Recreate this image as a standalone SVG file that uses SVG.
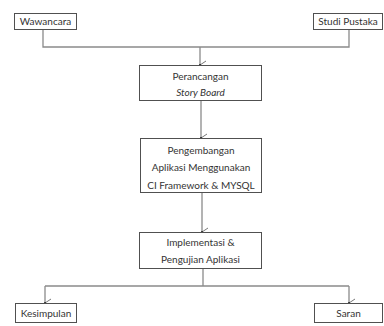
<svg xmlns="http://www.w3.org/2000/svg" width="384" height="326" viewBox="0 0 384 326">
<defs>
<style>
.box{fill:#fff;stroke:#505050;stroke-width:1}
.t{font-family:Lato,"Open Sans",sans-serif;font-size:10px;fill:#333;text-anchor:middle}
.c{fill:none;stroke:#8a8a8a;stroke-width:1.3}
</style>
<marker id="ah" markerWidth="10" markerHeight="10" refX="5" refY="8" orient="auto" markerUnits="userSpaceOnUse" viewBox="0 0 10 10">
<polyline points="1,2 5,8 9,2" fill="none" stroke="#777" stroke-width="1"/>
<circle cx="5" cy="8" r="1" fill="#222"/>
</marker>
</defs>
<g id="connectors">
<polyline class="c" points="43,29 43,47 349,47 349,29"/>
<line class="c" x1="200" y1="47" x2="200" y2="65" marker-end="url(#ah)"/>
<line class="c" x1="201" y1="100" x2="201" y2="138" marker-end="url(#ah)"/>
<line class="c" x1="202" y1="192" x2="202" y2="232" marker-end="url(#ah)"/>
<line class="c" x1="203" y1="268" x2="203" y2="286"/>
<line class="c" x1="45" y1="286" x2="349" y2="286"/>
<line class="c" x1="45" y1="286" x2="45" y2="303" marker-end="url(#ah)"/>
<line class="c" x1="349" y1="286" x2="349" y2="303" marker-end="url(#ah)"/>
</g>
<g id="wawancara">
<rect class="box" x="14.5" y="13.5" width="62" height="16"/>
<text class="t" x="45.5" y="25">Wawancara</text>
</g>
<g id="studi-pustaka">
<rect class="box" x="313.5" y="13.5" width="69" height="16"/>
<text class="t" x="348" y="25">Studi Pustaka</text>
</g>
<g id="perancangan">
<rect class="box" x="139.5" y="65.5" width="122" height="35"/>
<text class="t" x="200.5" y="80">Perancangan</text>
<text class="t" x="200.5" y="96" font-style="italic">Story Board</text>
</g>
<g id="pengembangan">
<rect class="box" x="140.5" y="138.5" width="121" height="54"/>
<text class="t" x="201" y="154">Pengembangan</text>
<text class="t" x="201" y="171">Aplikasi Menggunakan</text>
<text class="t" x="201" y="189">CI Framework &amp; MYSQL</text>
</g>
<g id="implementasi">
<rect class="box" x="139.5" y="232.5" width="122" height="36"/>
<text class="t" x="200.5" y="246">Implementasi &amp;</text>
<text class="t" x="200.5" y="263">Pengujian Aplikasi</text>
</g>
<g id="kesimpulan">
<rect class="box" x="15.5" y="303.5" width="61" height="19"/>
<text class="t" x="46" y="317">Kesimpulan</text>
</g>
<g id="saran">
<rect class="box" x="314.5" y="303.5" width="68" height="19"/>
<text class="t" x="348.5" y="317">Saran</text>
</g>
</svg>
